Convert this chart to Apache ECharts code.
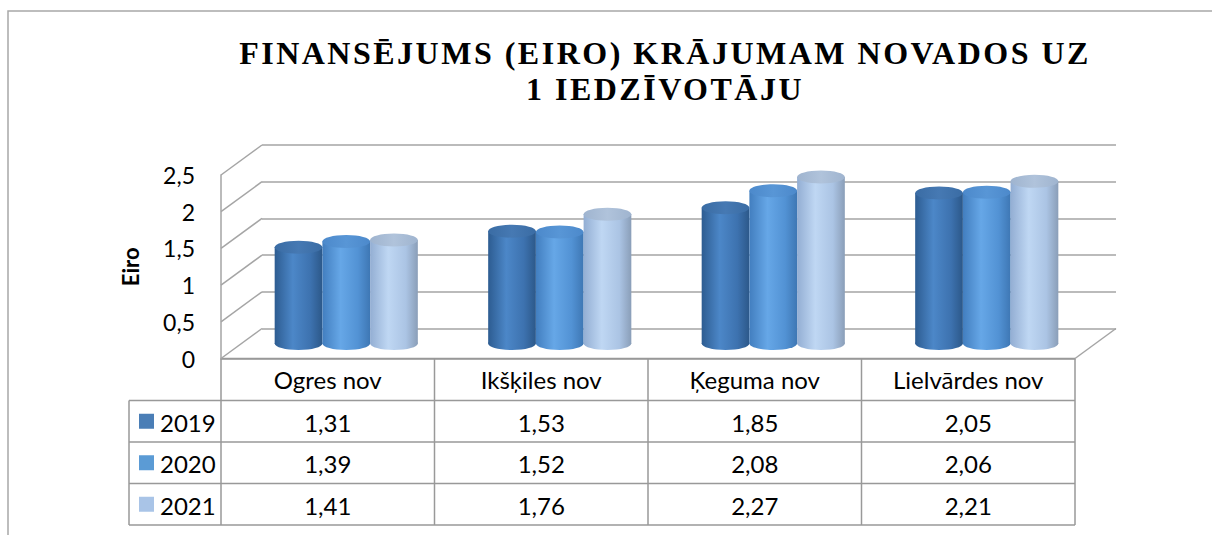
<!DOCTYPE html>
<html>
<head>
<meta charset="utf-8">
<script src="https://cdn.jsdelivr.net/npm/echarts/dist/echarts.min.js"></script>
<style>
html,body{margin:0;padding:0;background:#fff;}
#c{width:1212px;height:535px;}
#c text[style*="Liberation Serif"], #c text[font-family*="Liberation Serif"]{letter-spacing:2.5px;}
</style>
</head>
<body>
<div id="c"></div>
<script>
// ---------- data ----------
const categories = ['Ogres nov', 'Ikšķiles nov', 'Ķeguma nov', 'Lielvārdes nov'];
const years = ['2019', '2020', '2021'];
const values2019 = [1.31, 1.53, 1.85, 2.05];
const values2020 = [1.39, 1.52, 2.08, 2.06];
const values2021 = [1.41, 1.76, 2.27, 2.21];
const yTicks = [0, 0.5, 1, 1.5, 2, 2.5];
const titleText = 'FINANSĒJUMS (EIRO) KRĀJUMAM NOVADOS UZ\n1 IEDZĪVOTĀJU';
const yAxisName = 'Eiro';

// ---------- styling / layout ----------
const seriesValues = [values2019, values2020, values2021];
const legendColors = ['#4A7EB6', '#5B9BD5', '#A9C4E7'];
const bodyStops = [
  ['#2D5C91', '#4C87C8', '#3D72AF', '#2C5889'],
  ['#427EBF', '#66A7E7', '#5292D4', '#3E77B4'],
  ['#93AED3', '#BFD7F3', '#ABC4E4', '#8A9EB8']
];
const topColors = [['#3A6CA4', '#4679B3'], ['#4C89CB', '#5896D6'], ['#9FB4CF', '#B0C3DB']];
const FONT = 'Lato';
const GRID_COLOR = '#A5A5A5';
const TABLE_COLOR = '#999999';
const DX = -41, DY = 30;          // depth offset front vs back wall
const BAR_FRAC = 0.2235;          // bar width as fraction of category band
const RY = 6.5;                   // ellipse half-height
const TABLE_FS = 24;

const BACK = {left: 262, right: 1212 - 1116, top: 145, bottom: 535 - 328.5};
const FRONT = {left: 221, right: 1212 - 1075, top: 175, bottom: 535 - 358.5};

const fmtTick = v => String(v).replace('.', ',');
const fmtVal = v => v.toFixed(2).replace('.', ',');

function barRender(si) {
  return function (params, api) {
    const cat = api.value(0), val = api.value(1);
    const base = api.coord([cat, 0]);
    const top = api.coord([cat, val]);
    const band = api.size([1, 0])[0];
    const w = band * BAR_FRAC;
    const cx = base[0] + (si - 1) * w + DX / 2 - 2;
    const by = base[1] + DY / 2;
    const ty = top[1] + DY / 2;
    const st = bodyStops[si];
    const grad = new echarts.graphic.LinearGradient(0, 0, 1, 0, [
      {offset: 0, color: st[0]}, {offset: 0.38, color: st[1]},
      {offset: 0.75, color: st[2]}, {offset: 1, color: st[3]}
    ]);
    const topGrad = new echarts.graphic.LinearGradient(0, 0, 1, 0, [
      {offset: 0, color: topColors[si][0]}, {offset: 0.5, color: topColors[si][1]}, {offset: 1, color: topColors[si][0]}
    ]);
    return {
      type: 'group',
      children: [
        {type: 'ellipse', shape: {cx: cx, cy: by, rx: w / 2, ry: RY}, style: {fill: grad}},
        {type: 'rect', shape: {x: cx - w / 2, y: ty, width: w, height: by - ty}, style: {fill: grad}},
        {type: 'ellipse', shape: {cx: cx, cy: ty, rx: w / 2, ry: RY}, style: {fill: topGrad}}
      ]
    };
  };
}

function frameRender(params, api) {
  const v = api.value(1);
  const p = api.coord([0, v]);
  const cs = params.coordSys;
  const ls = {stroke: GRID_COLOR, lineWidth: 1.5};
  const children = [
    {type: 'line', shape: {x1: cs.x, y1: p[1], x2: cs.x + DX, y2: p[1] + DY}, style: ls}
  ];
  if (params.dataIndex === 0) {
    children.push({type: 'line', shape: {x1: cs.x + cs.width, y1: p[1], x2: cs.x + cs.width + DX, y2: p[1] + DY}, style: ls});
  }
  return {type: 'group', children: children};
}

// ---------- table (graphic) ----------
const T = {left: 129, colStart: 221, right: 1075, top: 358.5, header: 400.5, rowH: 41.5};
const colW = (T.right - T.colStart) / categories.length;
const graphics = [];
// outer frame
graphics.push({type: 'rect', shape: {x: 8, y: 11, width: 1400, height: 700}, style: {fill: 'none', stroke: '#A8A8A8', lineWidth: 1.5}, silent: true});
const lstyle = {stroke: TABLE_COLOR, lineWidth: 1.5};
const tableBottom = T.header + years.length * T.rowH;
graphics.push({type: 'line', shape: {x1: T.colStart, y1: T.top, x2: T.right, y2: T.top}, style: lstyle});
for (let r = 0; r <= years.length; r++) {
  const y = T.header + r * T.rowH;
  graphics.push({type: 'line', shape: {x1: T.left, y1: y, x2: T.right, y2: y}, style: lstyle});
}
graphics.push({type: 'line', shape: {x1: T.left, y1: T.header, x2: T.left, y2: tableBottom}, style: lstyle});
for (let c = 0; c <= categories.length; c++) {
  const x = T.colStart + c * colW;
  graphics.push({type: 'line', shape: {x1: x, y1: T.top, x2: x, y2: tableBottom}, style: lstyle});
}
years.forEach((yr, r) => {
  const cy = T.header + r * T.rowH + T.rowH / 2;
  graphics.push({type: 'rect', shape: {x: 139, y: cy - 7.5, width: 15, height: 15}, style: {fill: legendColors[r]}});
  graphics.push({type: 'text', style: {text: yr, x: 160, y: cy + 1, fontFamily: FONT, fontSize: TABLE_FS, fill: '#000', textAlign: 'left', textVerticalAlign: 'middle'}});
  seriesValues[r].forEach((v, c) => {
    graphics.push({type: 'text', style: {text: fmtVal(v), x: T.colStart + c * colW + colW / 2, y: cy + 1, fontFamily: FONT, fontSize: TABLE_FS, fill: '#000', textAlign: 'center', textVerticalAlign: 'middle'}});
  });
});

const chart = echarts.init(document.getElementById('c'), null, {renderer: 'svg'});

const series = [{
  type: 'custom', name: 'frame', xAxisIndex: 0, yAxisIndex: 0, z: 1,
  renderItem: frameRender,
  data: yTicks.map(v => [0, v]),
  encode: {x: 0, y: 1},
  silent: true
}];
years.forEach((yr, si) => {
  series.push({
    type: 'custom', name: yr, xAxisIndex: 0, yAxisIndex: 0, z: 2 + si,
    renderItem: barRender(si),
    data: seriesValues[si].map((v, i) => [i, v]),
    encode: {x: 0, y: 1},
    silent: true
  });
});

chart.setOption({
  animation: false,
  backgroundColor: '#fff',
  title: {
    text: titleText,
    left: 660, top: 30, textAlign: 'center',
    textStyle: {fontFamily: 'Liberation Serif', fontWeight: 'bold', fontSize: 32, lineHeight: 36, color: '#000'}
  },
  grid: [
    Object.assign({containLabel: false, outerBoundsMode: 'none'}, BACK),
    Object.assign({containLabel: false, outerBoundsMode: 'none'}, FRONT)
  ],
  xAxis: [
    {type: 'category', gridIndex: 0, data: categories, show: true,
      axisLine: {show: false}, axisTick: {show: false}, axisLabel: {show: false}, splitLine: {show: false}},
    {type: 'category', gridIndex: 1, data: categories,
      axisLine: {show: true, lineStyle: {color: TABLE_COLOR, width: 1.5}},
      axisTick: {show: false}, splitLine: {show: false},
      axisLabel: {show: true, interval: 0, margin: 9, color: '#000', fontFamily: FONT, fontSize: TABLE_FS}}
  ],
  yAxis: [
    {type: 'value', gridIndex: 0, min: 0, max: 2.5, interval: 0.5,
      axisLine: {show: false}, axisTick: {show: false}, axisLabel: {show: false},
      splitLine: {show: true, lineStyle: {color: GRID_COLOR, width: 1.5}}},
    {type: 'value', gridIndex: 1, min: 0, max: 2.5, interval: 0.5,
      axisLine: {show: true, lineStyle: {color: GRID_COLOR, width: 1.5}},
      axisTick: {show: false}, splitLine: {show: false},
      axisLabel: {show: true, margin: 26, color: '#000', fontFamily: FONT, fontSize: 23, padding: [5, 0, 0, 0],
        formatter: v => fmtTick(v)},
      name: yAxisName, nameLocation: 'middle', nameRotate: 90, nameGap: 80,
      nameTextStyle: {fontFamily: FONT, fontWeight: 'bold', fontSize: 22, color: '#000'}}
  ],
  series: series,
  graphic: graphics
});
</script>
</body>
</html>
